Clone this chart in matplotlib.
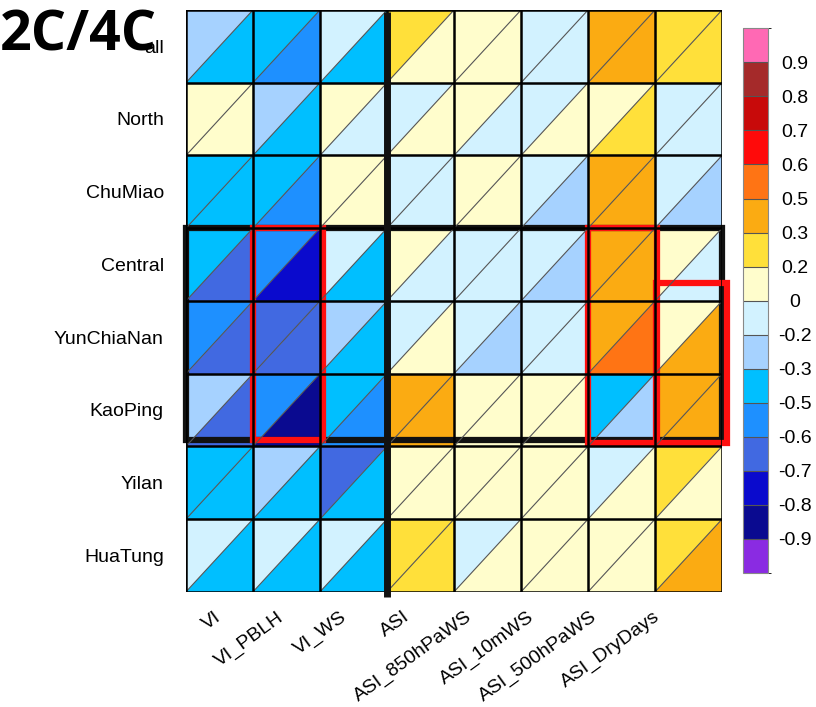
#!/usr/bin/env python3

import matplotlib
matplotlib.use('Agg')
import matplotlib.pyplot as plt
import matplotlib.transforms as mtransforms
import numpy as np
from matplotlib.colors import ListedColormap, BoundaryNorm
from matplotlib.collections import PolyCollection
from matplotlib.patches import Rectangle
from matplotlib.cm import ScalarMappable

regions = ['all', 'North', 'ChuMiao', 'Central', 'YunChiaNan', 'KaoPing', 'Yilan', 'HuaTung']
predictors = ['VI', 'VI_PBLH', 'VI_WS', 'ASI', 'ASI_850hPaWS', 'ASI_10mWS',
              'ASI_500hPaWS', 'ASI_DryDays']

# upper-left triangle of each cell (estimated from colour class)
upper = [
  [-0.25, -0.40, -0.10, 0.25, 0.10, -0.10, 0.40, 0.25],
  [ 0.10, -0.25,  0.10, -0.10, 0.10, -0.10, 0.10, -0.10],
  [-0.40, -0.40,  0.10, -0.10, 0.10, -0.10, 0.40, -0.10],
  [-0.40, -0.55, -0.10, 0.10, -0.10, -0.10, 0.40, 0.10],
  [-0.55, -0.65, -0.25, -0.10, -0.10, -0.10, 0.40, 0.10],
  [-0.25, -0.55, -0.40, 0.40, 0.10, 0.10, -0.40, 0.40],
  [-0.40, -0.25, -0.65, 0.10, 0.10, 0.10, -0.10, 0.25],
  [-0.10, -0.10, -0.10, 0.25, -0.10, 0.10, 0.10, 0.25],
]
# lower-right triangle of each cell
lower = [
  [-0.40, -0.55, -0.40, 0.10, 0.10, -0.10, 0.40, 0.25],
  [ 0.10, -0.40, -0.10, 0.10, -0.10, 0.10, 0.25, -0.10],
  [-0.40, -0.55,  0.10, -0.10, 0.10, -0.25, 0.40, -0.25],
  [-0.65, -0.75, -0.40, -0.10, -0.10, -0.25, 0.40, -0.10],
  [-0.65, -0.65, -0.40, 0.10, -0.25, -0.10, 0.55, 0.40],
  [-0.65, -0.85, -0.55, 0.40, 0.10, 0.10, -0.25, 0.40],
  [-0.40, -0.40, -0.40, 0.10, 0.10, 0.10, 0.10, 0.10],
  [-0.40, -0.40, -0.40, 0.25, 0.10, 0.10, 0.10, 0.40],
]

levels = [-0.9, -0.8, -0.7, -0.6, -0.5, -0.3, -0.2, 0, 0.2, 0.3, 0.5, 0.6, 0.7, 0.8, 0.9]
level_labels = ['-0.9', '-0.8', '-0.7', '-0.6', '-0.5', '-0.3', '-0.2', '0',
                '0.2', '0.3', '0.5', '0.6', '0.7', '0.8', '0.9']
colors = ['#8A2BE2', '#0A0A90', '#0A0ACD', '#4169E1', '#1E90FF', '#00BFFF',
          '#A6D2FF', '#D2F2FF', '#FFFDCC', '#FFE03A', '#FBAB12', '#FF7414',
          '#FF0A0A', '#C80A0A', '#A52A2A', '#FF69B4']

bounds = [-1.0] + levels + [1.0]
cmap = ListedColormap(colors)
norm = BoundaryNorm(bounds, cmap.N)

plt.rcParams['font.family'] = ['Liberation Sans', 'DejaVu Sans']

fig = plt.figure(figsize=(8.16, 7.07), dpi=100)
ax = fig.add_axes([0.228, 0.163, 0.657, 0.823])

nr, nc = len(regions), len(predictors)
verts, vals = [], []
for i in range(nr):
  for j in range(nc):
    verts.append([(j, i + 1), (j, i), (j + 1, i)])
    vals.append(upper[i][j])
    verts.append([(j, i + 1), (j + 1, i + 1), (j + 1, i)])
    vals.append(lower[i][j])

pc = PolyCollection(verts, array=np.array(vals), cmap=cmap, norm=norm, edgecolors='none')
ax.add_collection(pc)

for i in range(nr):
  for j in range(nc):
    ax.plot([j, j + 1], [i + 1, i], color='#555555', lw=0.8)

for k in range(nr + 1):
  ax.axhline(k, color='black', lw=1.8)
for k in range(nc + 1):
  ax.axvline(k, color='black', lw=1.8)

ax.set_xlim(0, nc)
ax.set_ylim(nr, 0)

# highlight boxes
ax.plot([3, 3], [0.03, 8.07], color='#111111', lw=5, clip_on=False, solid_capstyle='butt')
ax.add_patch(Rectangle((0, 3), 8, 2.92, fill=False, ec='#111111', lw=4.5, clip_on=False))
ax.add_patch(Rectangle((1, 3), 1.05, 2.92, fill=False, ec='#FF1010', lw=4.5, clip_on=False))
ax.add_patch(Rectangle((6, 3), 1.03, 2.95, fill=False, ec='#FF1010', lw=4.5, clip_on=False))
ax.add_patch(Rectangle((7.02, 3.75), 1.05, 2.2, fill=False, ec='#FF1010', lw=4.5, clip_on=False))

ax.set_xticks(np.arange(nc) + 0.5)
ax.set_xticklabels(predictors, rotation=36, ha='right', va='top', fontsize=14)
ax.set_yticks(np.arange(nr) + 0.5)
ax.set_yticklabels(regions, fontsize=14)
ax.tick_params(length=0)
ax.tick_params(axis='y', pad=16)
ax.tick_params(axis='x', pad=12)
for s in ax.spines.values():
  s.set_visible(False)

# labels drift slightly left of the column centres in the original
for j, lab in enumerate(ax.get_xticklabels()):
  dx = (5 - 4.4 * j) / 100.0
  lab.set_transform(lab.get_transform() + mtransforms.ScaledTranslation(dx, 0, fig.dpi_scale_trans))

cax = fig.add_axes([0.9105, 0.1895, 0.031, 0.7705])
sm = ScalarMappable(norm=norm, cmap=cmap)
cb = fig.colorbar(sm, cax=cax, ticks=levels, drawedges=True)
cb.ax.set_yticklabels(level_labels, fontsize=14, ha='center')
cb.ax.tick_params(length=0, pad=19)
cb.outline.set_edgecolor('#888888')
cb.outline.set_linewidth(0.8)
cb.dividers.set_color('#555555')
cb.dividers.set_linewidth(0.8)

# panel tag, drawn beneath the axes so the "all" label stays visible
fig.text(0.0, 0.928, '2C/4C', fontsize=40, fontweight='bold', family='Open Sans',
         ha='left', va='baseline', zorder=-1)

fig.savefig('out.png', dpi=100)
